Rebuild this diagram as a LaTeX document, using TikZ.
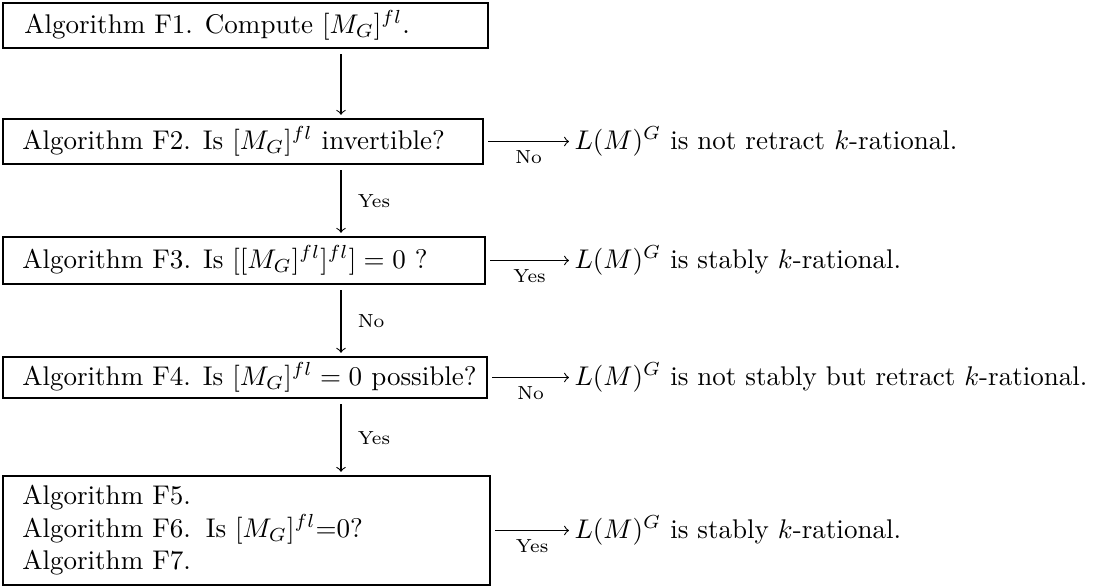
\documentclass[tikz,border=0pt]{standalone}
\usetikzlibrary{calc}
\tikzset{
  box/.style={draw, line width=0.9pt, inner sep=0pt},
  txt/.style={inner sep=0pt, anchor=west, align=left},
  res/.style={inner sep=0pt, anchor=west},
  arr/.style={->, line width=0.4pt},
  lab/.style={font=\scriptsize, inner sep=1pt},
}
\begin{document}
\begin{tikzpicture}[x=0.37pt, y=-0.37pt]
\useasboundingbox (0,0) rectangle (1098,587);
% boxes
\node[box, minimum width=179.45pt, minimum height=16.65pt] (b1) at (245.5,25.5) {};
\node[box, minimum width=177.6pt, minimum height=16.65pt] (b2) at (243,141.5) {};
\node[box, minimum width=178.3pt, minimum height=17.4pt] (b3) at (244,260.5) {};
\node[box, minimum width=179.1pt, minimum height=15.2pt] (b4) at (245,377.5) {};
\node[box, minimum width=180.2pt, minimum height=40.3pt] (b5) at (246.5,530.5) {};
% texts
\node[txt] (t1) at ($(b1.west)+(22,0)$) {Algorithm F1. Compute $[M_G]^{fl}$.};
\node[txt] (t2) at ($(b2.west)+(20,0)$) {Algorithm F2. Is $[M_G]^{fl}$ invertible?};
\node[txt] (t3) at ($(b3.west)+(20,0)$) {Algorithm F3. Is $[[M_G]^{fl}]^{fl}]=0$ ?};
\node[txt] (t4) at ($(b4.west)+(20,0)$) {Algorithm F4. Is $[M_G]^{fl}=0$ possible?};
\node[txt] (t5) at ($(b5.west)+(20,0)$) {Algorithm F5.\\Algorithm F6.\hskip5.5pt Is $[M_G]^{fl}$=0?\\Algorithm F7.};
% results
\coordinate (rx) at (574,0);
\node[res] (r2) at (b2.east -| rx) {$L(M)^G$ is not retract $k$-rational.};
\node[res] (r3) at (b3.east -| rx) {$L(M)^G$ is stably $k$-rational.};
\node[res] (r4) at (b4.east -| rx) {$L(M)^G$ is not stably but retract $k$-rational.};
\node[res] (r5) at (b5.east -| rx) {$L(M)^G$ is stably $k$-rational.};
% vertical arrows
\coordinate (ax) at (341,0);
\draw[arr] ($(b1.south -| ax)+(0,5)$) -- ($(b2.north -| ax)+(0,-3)$);
\draw[arr] ($(b2.south -| ax)+(0,5)$) -- node[lab, right=5pt] {Yes} ($(b3.north -| ax)+(0,-3)$);
\draw[arr] ($(b3.south -| ax)+(0,5)$) -- node[lab, right=5pt] {No} ($(b4.north -| ax)+(0,-3)$);
\draw[arr] ($(b4.south -| ax)+(0,5)$) -- node[lab, right=5pt] {Yes} ($(b5.north -| ax)+(0,-3)$);
% horizontal arrows
\draw[arr] ($(b2.east)+(4,0)$) -- node[lab, below=2pt] {No} ($(r2.west)+(-5,0)$);
\draw[arr] ($(b3.east)+(4,0)$) -- node[lab, below=2pt] {Yes} ($(r3.west)+(-5,0)$);
\draw[arr] ($(b4.east)+(4,0)$) -- node[lab, below=2pt] {No} ($(r4.west)+(-5,0)$);
\draw[arr] ($(b5.east)+(4,0)$) -- node[lab, below=2pt] {Yes} ($(r5.west)+(-5,0)$);
\end{tikzpicture}
\end{document}
